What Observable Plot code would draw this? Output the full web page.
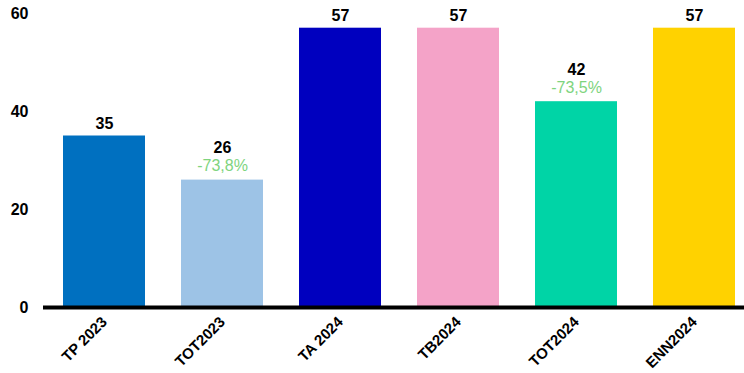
<!DOCTYPE html>
<html>
<head>
<meta charset="utf-8">
<script src="https://cdn.jsdelivr.net/npm/d3@7"></script>
<script src="https://cdn.jsdelivr.net/npm/@observablehq/plot@0.6"></script>
<style>
html, body { margin: 0; padding: 0; background: #fff; }
</style>
</head>
<body>
<div id="chart"></div>
<script>
const categories = ["TP 2023", "TOT2023", "TA 2024", "TB2024", "TOT2024", "ENN2024"];
const values = [35, 26, 57, 57, 42, 57];
const changes = ["", "-73,8%", "", "", "-73,5%", ""];
const colors = ["#0070C0", "#9DC3E6", "#0000BF", "#F4A3C8", "#00D4A6", "#FFD200"];
const yTicks = [0, 20, 40, 60];
const baseline = [0];

const data = categories.map((c, i) => ({cat: c, value: values[i], change: changes[i], color: colors[i]}));
const font = "'Liberation Sans', Arial, sans-serif";

const chart = Plot.plot({
  width: 744,
  height: 373,
  marginTop: 13,
  marginBottom: 66,
  marginLeft: 43,
  marginRight: 0,
  style: {fontFamily: font, background: "#fff", overflow: "visible"},
  x: {domain: categories, range: [53, 744], paddingInner: 0.307, paddingOuter: 0.07, label: null},
  y: {domain: [0, 60], label: null},
  marks: [
    Plot.barY(data, {x: "cat", y: "value", fill: "color"}),
    Plot.ruleY(baseline, {stroke: "black", strokeWidth: 4}),
    Plot.text(data.filter(d => !d.change), {x: "cat", y: "value", text: d => String(d.value), dy: -12, fontSize: 16, fontWeight: "bold", fill: "#000"}),
    Plot.text(data.filter(d => d.change), {x: "cat", y: "value", text: d => String(d.value), dy: -32, fontSize: 16, fontWeight: "bold", fill: "#000"}),
    Plot.text(data.filter(d => d.change), {x: "cat", y: "value", text: "change", dy: -14, fontSize: 16, fill: "#7ED47E"}),
    Plot.axisY({ticks: yTicks, tickSize: 0, tickPadding: 15, fontSize: 16, fontWeight: "bold", fill: "#000", label: null}),
    Plot.axisX({tickSize: 0, tickPadding: 12, tickRotate: -45, fontSize: 15, fontWeight: "bold", fill: "#000", label: null})
  ]
});
document.getElementById("chart").appendChild(chart);
</script>
</body>
</html>
